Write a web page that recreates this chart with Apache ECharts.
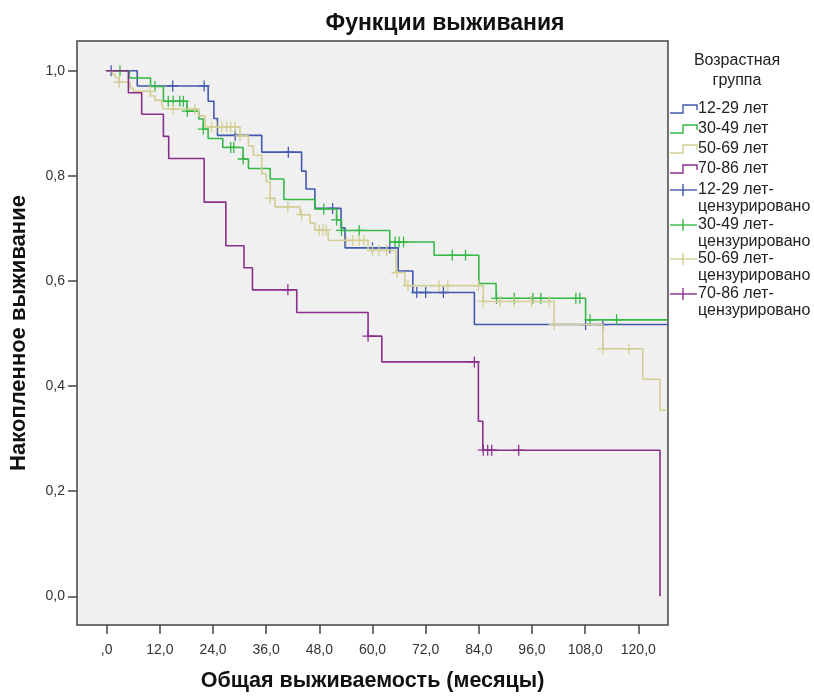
<!DOCTYPE html>
<html>
<head>
<meta charset="utf-8">
<title>Функции выживания</title>
<script src="https://cdn.jsdelivr.net/npm/echarts@6/dist/echarts.min.js"></script>
<style>
  html, body { margin: 0; padding: 0; background: #ffffff; }
  #chart { width: 814px; height: 697px; }
</style>
</head>
<body>
<div id="chart"></div>
<script>
// Kaplan–Meier survival estimates by age group (months of follow-up)
const groupNames = ['12-29 лет', '30-49 лет', '50-69 лет', '70-86 лет'];
const groupColors = ['#4058ae', '#36b847', '#d3ce95', '#8a2e8c'];

// 12-29
const g1Times = [0, 6.9, 22.9, 24.2, 25.0, 35.0, 44.0, 45.0, 47.0, 52.9, 53.8, 65.8, 69.1, 83.0];
const g1Surv = [1.0, 0.971, 0.942, 0.909, 0.877, 0.845, 0.809, 0.775, 0.738, 0.701, 0.663, 0.619, 0.578, 0.517];
const g1Censored = [1.0, 14.9, 22.0, 29.0, 41.0, 51.0, 60.0, 63.9, 70.0, 72.0, 76.0, 108.1, 112.0];
const g1End = 126.6;

// 30-49
const g2Times = [0, 5.1, 9.9, 12.8, 18.1, 20.8, 21.8, 22.9, 26.2, 30.8, 32.0, 36.9, 40.0, 47.0, 51.9, 53.0, 63.9, 73.9, 84.0, 87.9, 108.1];
const g2Surv = [1.0, 0.986, 0.970, 0.942, 0.923, 0.908, 0.889, 0.871, 0.854, 0.832, 0.814, 0.794, 0.755, 0.737, 0.716, 0.696, 0.674, 0.649, 0.595, 0.567, 0.526];
const g2Censored = [3.0, 10.9, 13.9, 15.0, 16.5, 17.3, 18.2, 21.8, 28.0, 28.7, 30.8, 49.0, 51.9, 53.0, 57.0, 65.1, 66.0, 67.0, 78.0, 81.0, 88.0, 92.0, 96.2, 98.0, 105.9, 106.8, 109.1, 115.1];
const g2End = 126.6;

// 50-69
const g3Times = [0, 1.3, 1.9, 2.8, 5.3, 6.0, 9.9, 10.9, 12.4, 12.8, 20.7, 22.2, 30.1, 32.0, 33.1, 35.0, 36.0, 36.9, 38.0, 43.6, 45.9, 47.0, 50.0, 59.0, 65.3, 67.3, 85.0, 101.0, 112.0, 121.0, 124.9];
const g3Surv = [1.0, 0.993, 0.987, 0.978, 0.967, 0.961, 0.952, 0.944, 0.936, 0.927, 0.914, 0.893, 0.876, 0.857, 0.839, 0.804, 0.789, 0.757, 0.741, 0.726, 0.710, 0.697, 0.677, 0.658, 0.616, 0.591, 0.561, 0.517, 0.471, 0.413, 0.354];
const g3Censored = [2.8, 9.8, 15.0, 19.9, 23.7, 24.8, 26.0, 27.1, 28.0, 29.0, 30.1, 36.9, 40.9, 44.0, 48.0, 48.8, 49.5, 54.1, 55.5, 57.0, 58.1, 60.0, 61.5, 63.2, 65.5, 68.0, 75.0, 77.0, 83.9, 85.0, 88.8, 91.9, 95.9, 99.9, 101.0, 112.0, 117.9];
const g3End = 126.6;

// 70-86
const g4Times = [0, 4.9, 7.9, 12.8, 14.0, 22.0, 26.9, 31.0, 32.9, 42.9, 59.0, 62.1, 83.9, 84.9, 124.9];
const g4Surv = [1.0, 0.958, 0.917, 0.875, 0.833, 0.750, 0.667, 0.625, 0.583, 0.540, 0.495, 0.446, 0.333, 0.278, 0.0];
const g4Censored = [40.9, 59.0, 83.0, 85.0, 86.0, 86.9, 93.0];
const g4End = 124.9;

// Axis ticks
const xTickValues = [0, 12, 24, 36, 48, 60, 72, 84, 96, 108, 120];
const xTickLabels = [',0', '12,0', '24,0', '36,0', '48,0', '60,0', '72,0', '84,0', '96,0', '108,0', '120,0'];
const yTickValues = [0, 0.2, 0.4, 0.6, 0.8, 1.0];
const yTickLabels = ['0,0', '0,2', '0,4', '0,6', '0,8', '1,0'];

const FONT = '"Liberation Sans", Arial, sans-serif';

const groups = [
  { times: g1Times, surv: g1Surv, censored: g1Censored, end: g1End },
  { times: g2Times, surv: g2Surv, censored: g2Censored, end: g2End },
  { times: g3Times, surv: g3Surv, censored: g3Censored, end: g3End },
  { times: g4Times, surv: g4Surv, censored: g4Censored, end: g4End }
];

// Survival value of the step function at time t
function survivalAt(times, surv, t) {
  let s = surv[0];
  for (let i = 0; i < times.length; i++) {
    if (times[i] <= t + 1e-9) s = surv[i];
  }
  return s;
}

function stepData(g) {
  const pts = g.times.map((t, i) => [t, g.surv[i]]);
  const last = g.times[g.times.length - 1];
  if (g.end > last) pts.push([g.end, g.surv[g.surv.length - 1]]);
  return pts;
}

function labelFor(values, labels) {
  return function (v) {
    for (let i = 0; i < values.length; i++) {
      if (Math.abs(values[i] - v) < 1e-6) return labels[i];
    }
    return '';
  };
}

// Censoring mark: a thin plus sign
const PLUS = 'path://M-0.7,-6H0.7V6H-0.7Z M-6,-0.7H6V0.7H-6Z';

const series = [];
groups.forEach((g, i) => {
  series.push({
    name: groupNames[i],
    type: 'line',
    step: 'end',
    data: stepData(g),
    showSymbol: false,
    symbol: 'none',
    lineStyle: { color: groupColors[i], width: 1.6 },
    itemStyle: { color: groupColors[i] },
    z: 3 + i,
    animation: false,
    silent: true
  });
});
groups.forEach((g, i) => {
  series.push({
    name: groupNames[i] + '-цензурировано',
    type: 'scatter',
    data: g.censored.map(t => [t, survivalAt(g.times, g.surv, t)]),
    symbol: PLUS,
    symbolSize: 11,
    itemStyle: { color: groupColors[i], opacity: 1 },
    z: 3 + i,
    animation: false,
    silent: true
  });
});

// Legend drawn as graphic items at the right of the plot
const LEGEND_FONT = '16px ' + FONT;
const legendGraphics = [];
legendGraphics.push({
  type: 'text',
  style: {
    text: 'Возрастная\nгруппа', x: 737, y: 51,
    align: 'center', verticalAlign: 'top', fill: '#222', font: LEGEND_FONT, lineHeight: 20
  }
});
const lineRowY = [109, 129, 149, 169];
groupNames.forEach((name, i) => {
  const y = lineRowY[i];
  legendGraphics.push({
    type: 'polyline',
    shape: { points: [[670, y + 4], [683, y + 4], [683, y - 4], [697, y - 4], [697, y + 1]] },
    style: { stroke: groupColors[i], lineWidth: 1.4, fill: null }
  });
  legendGraphics.push({
    type: 'text',
    style: { text: name, x: 698, y: y, verticalAlign: 'middle', fill: '#222', font: LEGEND_FONT }
  });
});
const censRowY = [190, 225, 259, 294];
groupNames.forEach((name, i) => {
  const y = censRowY[i];
  legendGraphics.push({
    type: 'line',
    shape: { x1: 670, y1: y, x2: 697, y2: y },
    style: { stroke: groupColors[i], lineWidth: 1.4 }
  });
  legendGraphics.push({
    type: 'line',
    shape: { x1: 683, y1: y - 6, x2: 683, y2: y + 6 },
    style: { stroke: groupColors[i], lineWidth: 1.4 }
  });
  legendGraphics.push({
    type: 'text',
    style: { text: name + '-\nцензурировано', x: 698, y: y - 9, verticalAlign: 'top', fill: '#222', font: LEGEND_FONT, lineHeight: 17 }
  });
});

const chart = echarts.init(document.getElementById('chart'), null, { renderer: 'canvas' });
chart.setOption({
  animation: false,
  backgroundColor: '#ffffff',
  title: {
    text: 'Функции выживания',
    left: 440, top: 7,
    textAlign: 'center',
    textStyle: { fontFamily: FONT, fontSize: 23, fontWeight: 'bold', color: '#111' }
  },
  grid: {
    left: 77, top: 41, right: 146, bottom: 66,
    show: true,
    backgroundColor: '#f0f0f0',
    borderColor: '#444',
    borderWidth: 1.5
  },
  xAxis: {
    type: 'value',
    min: -6.7, max: 126.7,
    name: 'Общая выживаемость (месяцы)',
    nameLocation: 'middle',
    nameGap: 45,
    nameTextStyle: { fontFamily: FONT, fontSize: 21.5, fontWeight: 'bold', color: '#111' },
    axisLine: { show: false, onZero: false },
    splitLine: { show: false },
    axisTick: { show: true, length: 9, inside: false, customValues: xTickValues, lineStyle: { color: '#444', width: 1.5 } },
    axisLabel: { customValues: xTickValues, formatter: labelFor(xTickValues, xTickLabels), margin: 18, fontFamily: FONT, fontSize: 14, color: '#333' }
  },
  yAxis: {
    type: 'value',
    min: -0.0546, max: 1.0565,
    name: 'Накопленное выживание',
    nameLocation: 'middle',
    nameGap: 47,
    nameRotate: 90,
    nameTextStyle: { fontFamily: FONT, fontSize: 22, fontWeight: 'bold', color: '#111' },
    axisLine: { show: false, onZero: false },
    splitLine: { show: false },
    axisTick: { show: true, length: 9, inside: false, customValues: yTickValues, lineStyle: { color: '#444', width: 1.5 } },
    axisLabel: { customValues: yTickValues, formatter: labelFor(yTickValues, yTickLabels), margin: 12, fontFamily: FONT, fontSize: 14, color: '#333' }
  },
  series: series,
  graphic: legendGraphics
});
</script>
</body>
</html>
